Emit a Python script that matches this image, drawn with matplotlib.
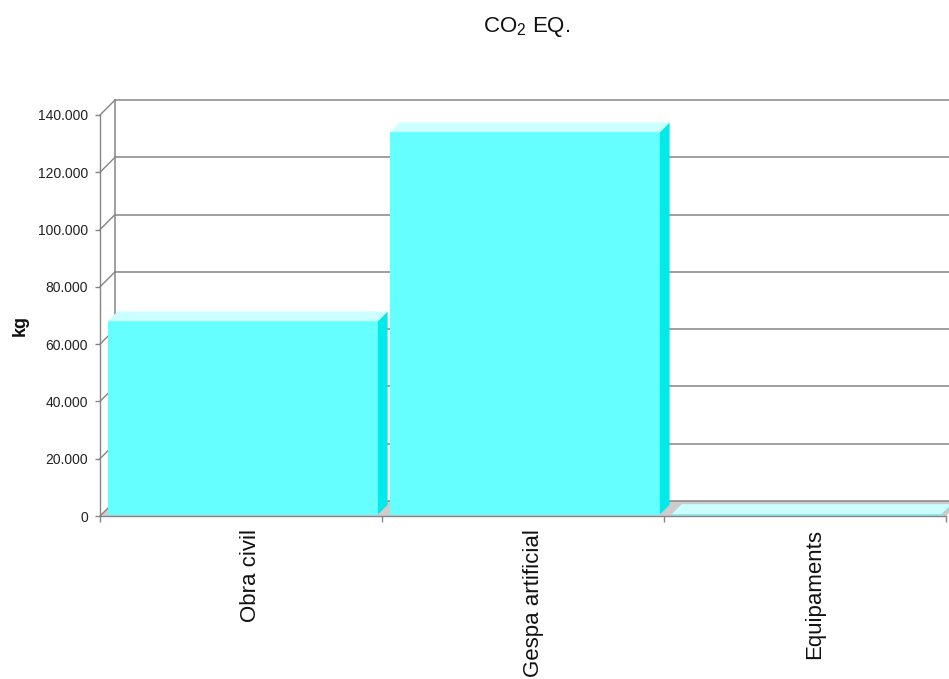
import matplotlib
matplotlib.use('Agg')
import matplotlib.pyplot as plt
from matplotlib.patches import Polygon
from matplotlib.transforms import offset_copy

plt.rcParams['font.family'] = ['Liberation Sans', 'DejaVu Sans']
plt.rcParams['mathtext.fontset'] = 'custom'
plt.rcParams['mathtext.rm'] = 'Liberation Sans'

# data
categories = ['Obra civil', 'Gespa artificial', 'Equipaments']
co2_kg = [67500, 133500, 200]
y_ticks = [0, 20000, 40000, 60000, 80000, 100000, 120000, 140000]
y_labels = [f'{v:,}'.replace(',', '.') for v in y_ticks]

front_col = '#66ffff'
side_col = '#00eaea'
top_col = '#ccffff'
floor_col = '#cccccc'
line_col = '#858585'

W, H = 949, 679
fig = plt.figure(figsize=(W / 100, H / 100), dpi=100)
ax = fig.add_axes([100 / W, (H - 516) / H, 846 / W, 401 / H])
ax.set_xlim(0, len(categories))
ax.set_ylim(0, y_ticks[-1])

# depth of the fake 3d box, 15 px, in data units
depth_px = 15
dx = depth_px * len(categories) / 846
dy = depth_px * y_ticks[-1] / 401

# floor
n = len(categories)
ax.add_patch(Polygon([(0, 0), (n, 0), (n + dx, dy), (dx, dy)],
                     closed=True, fc=floor_col, ec='none', zorder=1, clip_on=False))

# back wall grid + connectors to the front axis
for v in y_ticks:
    ax.plot([dx, n + dx], [v + dy, v + dy], color=line_col, lw=1.1, zorder=1, clip_on=False)
    ax.plot([0, dx], [v, v + dy], color=line_col, lw=1, zorder=1, clip_on=False)
ax.plot([dx, dx], [dy, y_ticks[-1] + dy], color=line_col, lw=1.1, zorder=1, clip_on=False)

# bars: front face with ax.bar, side and top as polygons
bar_w = 0.957
bar_left = 0.023
z0, z1 = 0.1, 0.75
ddx, ddy = (z1 - z0) * dx, (z1 - z0) * dy
for i, v in enumerate(co2_kg):
    x0 = i + bar_left + z0 * dx
    b = z0 * dy
    ax.bar(x0, v, width=bar_w, bottom=b, align='edge', color=front_col,
           zorder=3, clip_on=False)
    xr = x0 + bar_w
    ax.add_patch(Polygon([(xr, b), (xr + ddx, b + ddy), (xr + ddx, b + v + ddy), (xr, b + v)],
                         closed=True, fc=side_col, ec='none', zorder=3, clip_on=False))
    ax.add_patch(Polygon([(x0, b + v), (xr, b + v), (xr + ddx, b + v + ddy), (x0 + ddx, b + v + ddy)],
                         closed=True, fc=top_col, ec='none', zorder=3, clip_on=False))

for s in ['top', 'right']:
    ax.spines[s].set_visible(False)
for s in ['left', 'bottom']:
    ax.spines[s].set_color(line_col)
    ax.spines[s].set_linewidth(1)
    ax.spines[s].set_zorder(4)

ax.set_yticks(y_ticks, y_labels)
ax.tick_params(axis='y', length=3.6, width=1, color=line_col, pad=5,
               labelsize=10, labelcolor='#222222')
ax.set_xticks(range(n + 1))
ax.set_xticklabels([])
ax.tick_params(axis='x', length=4.3, width=1, color=line_col)

lab_tr = offset_copy(ax.transData, fig=fig, x=10, y=-13, units='dots')
for i, c in enumerate(categories):
    ax.text(i + 0.5, 0, c, transform=lab_tr, rotation=90, ha='center', va='top',
            fontsize=16, color='#111111')

fig.text(20 / W, 1 - 325 / H, 'kg', rotation=90, ha='center', va='center',
         fontsize=13, fontweight='bold', color='#111111')
fig.text(527 / W, 1 - 27 / H, r'CO$_\mathregular{2}$ EQ.', ha='center', va='center',
         fontsize=16, color='#111111')

fig.savefig('out.png', dpi=100)
